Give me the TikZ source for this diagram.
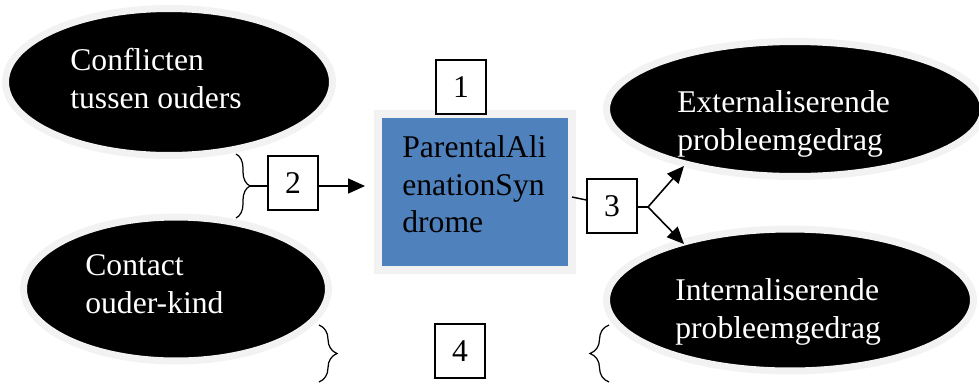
\documentclass[tikz,border=0pt]{standalone}
\usepackage{fontspec}
\setmainfont{Liberation Serif}
\usetikzlibrary{shapes.geometric, positioning, arrows.meta, decorations.pathreplacing}
\definecolor{pasblue}{HTML}{4F81BD}
\definecolor{rim}{HTML}{F2F2F2}

\begin{document}
\begin{tikzpicture}[x=0.02cm, y=-0.02cm,
	font=\fontsize{18}{21.5}\selectfont,
	blob/.style={ellipse, fill=black, draw=rim, line width=0.14cm, inner sep=0},
	txt/.style={text=white, align=left, anchor=north west, inner sep=0},
	num/.style={draw, fill=white, line width=0.8pt, minimum width=1cm, minimum height=1.08cm, inner sep=0},
	brc/.style={decorate, decoration={brace, amplitude=#1}, line width=0.7pt},
	arr/.style={-{Triangle[length=0.34cm, width=0.3cm]}, line width=0.9pt}]

	\useasboundingbox (0,0) rectangle (979,383);

	% ellipses
	\node[blob, minimum width=6.54cm, minimum height=2.94cm] (conf) at (169,82) {};
	\node[blob, minimum width=6.1cm, minimum height=2.88cm] (cont) at (176,289) {};
	\node[blob, minimum width=7.54cm, minimum height=2.7cm] (ext) at (795,109) {};
	\node[blob, minimum width=7.34cm, minimum height=2.84cm] (int) at (790,300) {};

	\node[txt] (conftxt) at (70,48) {Conflicten\\tussen ouders};
	\node[txt] (conttxt) at (85,254) {Contact\\ouder-kind};
	\node[txt] (exttxt) at (677,90) {Externaliserende\\probleemgedrag};
	\node[txt] (inttxt) at (675,278) {Internaliserende\\probleemgedrag};

	% central box
	\node[fill=pasblue, draw=rim, line width=0.16cm, minimum width=3.88cm, minimum height=3.12cm, inner sep=0] (pas) at (475,192) {};
	\node[anchor=north west, align=left, inner sep=0] (pastxt) at (402,135) {ParentalAli\\enationSyn\\drome};

	% numbered boxes
	\node[num] (b1) at (461,87) {1};
	\node[num] (b2) at (293,183) {2};
	\node[num] (b3) at (612,206) {3};
	\node[num] (b4) at (460,351) {4};

	% braces
	\coordinate (br2a) at (236,154);
	\coordinate (br2b) at (236,218);
	\coordinate (br4a) at (319,325);
	\coordinate (br4b) at (319,382);
	\coordinate (br5a) at (609,382);
	\coordinate (br5b) at (609,325);
	\draw[brc=0.28cm] (br2a) -- (br2b);
	\draw[brc=0.36cm] (br4a) -- (br4b);
	\draw[brc=0.38cm] (br5a) -- (br5b);

	% connectors
	\coordinate (b2tip) at (250,186);
	\coordinate (split) at (648,207);
	\coordinate (extend) at (684,166);
	\coordinate (intend) at (684,244);

	\draw[line width=0.8pt] (b2tip) -- (b2tip -| b2.west);
	\draw[arr, shorten >=0.18cm] (b2tip -| b2.east) -- (b2tip -| pas.west);
	\draw[line width=0.8pt] ([xshift=-0.08cm, yshift=-0.1cm]pas.east) -- ([yshift=0.12cm]b3.west);
	\draw[line width=0.8pt] (b3.east |- split) -- (split);
	\draw[arr] (split) -- (extend);
	\draw[arr] (split) -- (intend);
\end{tikzpicture}
\end{document}
